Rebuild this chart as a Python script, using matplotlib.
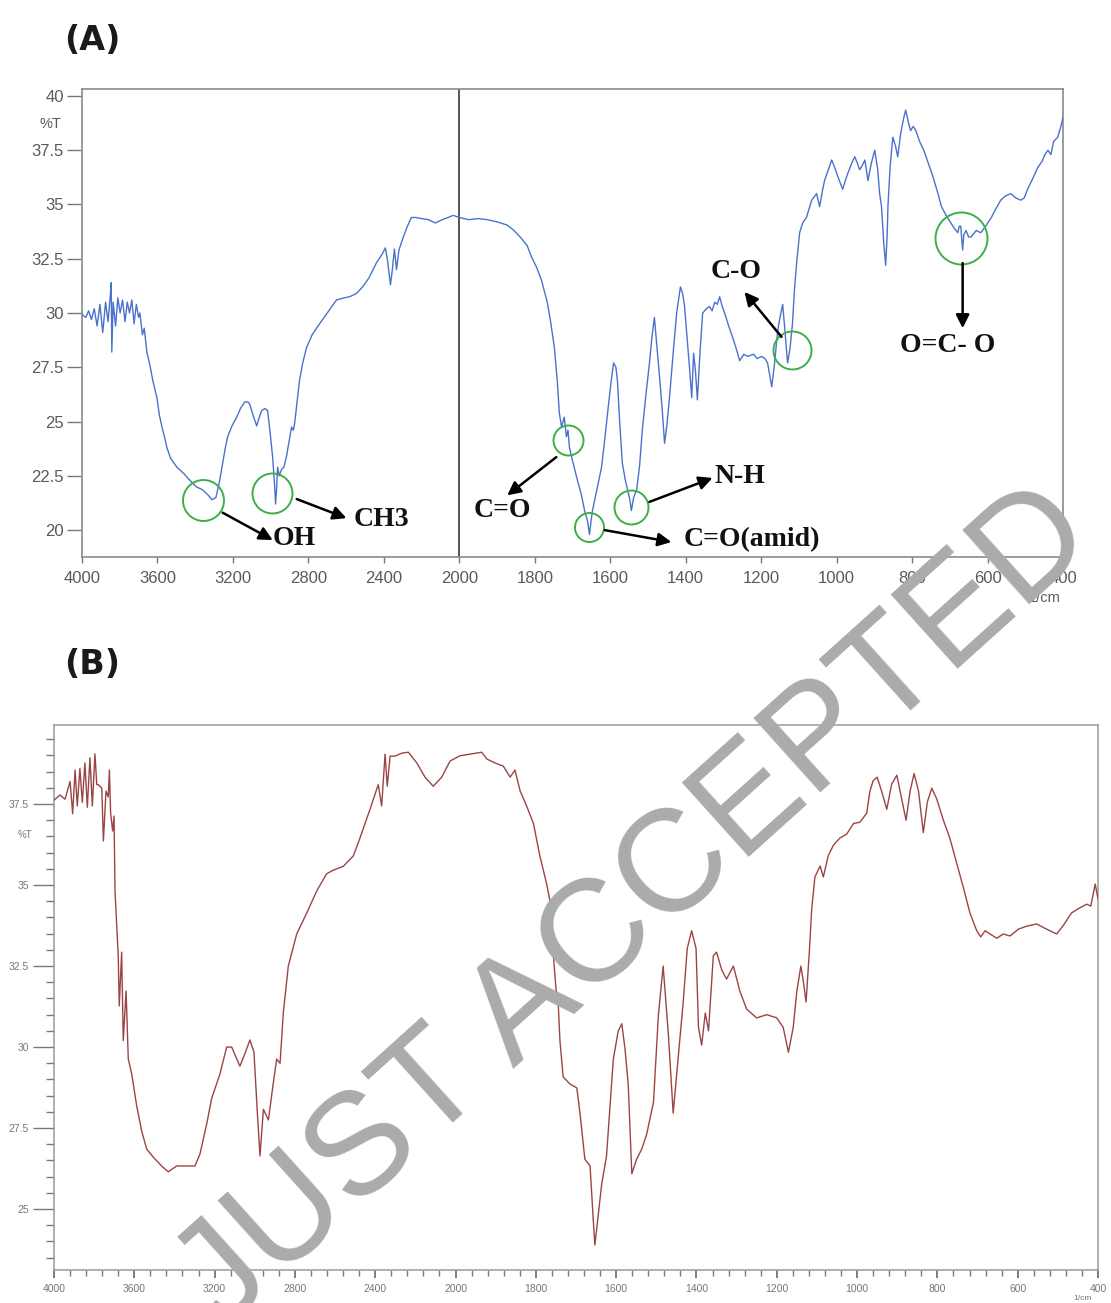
import numpy as np
import matplotlib
matplotlib.use('Agg')
import matplotlib.pyplot as plt

# ---- panel A spectrum (wavenumber 1/cm, %T) ----
wn_a = [4000, 3995, 3980, 3965, 3950, 3935, 3920, 3905, 3890, 3875, 3862, 3850, 3845, 3842,
        3835, 3822, 3810, 3798, 3785, 3772, 3760, 3748, 3736, 3724, 3712, 3700, 3693, 3680,
        3670, 3656, 3640, 3625, 3603, 3590, 3575, 3560, 3550, 3530, 3497, 3460, 3429, 3395,
        3360, 3330, 3312, 3290, 3270, 3254, 3240, 3228, 3205, 3180, 3160, 3138, 3120, 3111,
        3090, 3074, 3060, 3048, 3030, 3016, 3003, 2990, 2980, 2974, 2968, 2963, 2955, 2942,
        2930, 2916, 2900, 2889, 2880, 2873, 2860, 2847, 2830, 2810, 2780, 2741, 2700, 2651,
        2610, 2582, 2545, 2513, 2480, 2440, 2410, 2392, 2380, 2365, 2355, 2344, 2333, 2320,
        2297, 2275, 2254, 2230, 2200, 2164, 2127, 2090, 2060, 2032, 2000, 1975, 1950, 1926,
        1900, 1873, 1855, 1836, 1820, 1809, 1795, 1782, 1767, 1758, 1748, 1740, 1735, 1729,
        1722, 1716, 1712, 1708, 1700, 1687, 1676, 1668, 1660, 1655, 1651, 1647, 1635, 1623,
        1615, 1607, 1598, 1591, 1585, 1581, 1575, 1568, 1560, 1554, 1548, 1544, 1538, 1530,
        1522, 1515, 1505, 1496, 1490, 1483, 1477, 1470, 1462, 1456, 1450, 1443, 1433, 1424,
        1414, 1408, 1403, 1396, 1390, 1384, 1379, 1374, 1369, 1362, 1355, 1345, 1337, 1330,
        1323, 1316, 1310, 1303, 1297, 1286, 1276, 1265, 1257, 1246, 1236, 1220, 1210, 1199,
        1190, 1183, 1178, 1172, 1165, 1156, 1150, 1143, 1137, 1130, 1124, 1117, 1112, 1106,
        1098, 1090, 1080, 1066, 1053, 1045, 1038, 1032, 1022, 1013, 1005, 997, 984, 977,
        970, 960, 952, 945, 939, 932, 925, 917, 908, 899, 891, 886, 881, 875, 870, 866,
        864, 858, 851, 844, 838, 830, 822, 817, 810, 804, 797, 790, 780, 769, 757, 745,
        733, 722, 710, 697, 688, 679, 675, 671, 668, 666, 663, 657, 650, 644, 630, 618,
        605, 590, 578, 565, 552, 538, 525, 512, 503, 494, 480, 467, 455, 448, 440, 432,
        425, 414, 407, 400]
t_a = [29.9, 29.9, 29.8, 30.1, 29.7, 30.2, 29.4, 30.4, 29.1, 30.5, 29.6, 30.8, 31.4, 28.2,
       30.5, 29.4, 30.7, 30.0, 30.6, 29.6, 30.5, 30.0, 30.6, 29.5, 30.4, 29.8, 30.0, 29.0,
       29.3, 28.2, 27.6, 26.9, 26.1, 25.3, 24.7, 24.2, 23.8, 23.3, 22.9, 22.6, 22.3, 22.0,
       21.85, 21.6, 21.4, 21.5, 22.3, 23.1, 23.8, 24.3, 24.8, 25.2, 25.6, 25.9, 25.9, 25.8,
       25.2, 24.8, 25.2, 25.5, 25.6, 25.5, 24.5, 23.4, 22.2, 21.2, 22.0, 22.9, 22.5, 22.8,
       22.9, 23.4, 24.2, 24.75, 24.6, 24.9, 25.9, 26.9, 27.7, 28.4, 29.0, 29.5, 30.0, 30.6,
       30.7, 30.75, 30.9, 31.2, 31.6, 32.3, 32.7, 33.0, 32.4, 31.3, 32.0, 32.95, 32.0, 32.9,
       33.5, 34.0, 34.4, 34.4, 34.35, 34.3, 34.15, 34.3, 34.4, 34.5, 34.4, 34.3, 34.35, 34.3,
       34.2, 34.05, 33.8, 33.45, 33.1, 32.6, 32.1, 31.5, 30.5, 29.6, 28.4, 26.8, 25.4, 24.75,
       25.2, 24.3, 24.6, 23.8, 23.2, 22.3, 21.6, 20.9, 20.4, 19.8, 20.4, 20.9, 21.9, 22.9,
       24.1, 25.4, 26.8, 27.7, 27.5, 26.9, 25.0, 23.1, 22.3, 21.85, 21.4, 20.9, 21.5, 21.85,
       23.0, 24.6, 26.3, 27.7, 28.8, 29.8, 28.6, 27.2, 25.5, 24.0, 24.8, 26.1, 28.2, 30.0,
       31.2, 30.9, 30.3, 28.8, 27.5, 26.1, 28.15, 27.3, 26.0, 28.2, 30.0, 30.2, 30.3, 30.1,
       30.5, 30.4, 30.75, 30.3, 30.0, 29.4, 28.9, 28.3, 27.8, 28.1, 28.0, 28.1, 27.9, 28.0,
       27.9, 27.7, 27.2, 26.6, 27.6, 29.2, 29.8, 30.4, 29.2, 27.7, 28.3, 29.5, 31.0, 32.3,
       33.7, 34.15, 34.4, 35.2, 35.5, 34.9, 35.6, 36.1, 36.6, 37.05, 36.7, 36.3, 35.7, 36.1,
       36.45, 36.9, 37.2, 36.9, 36.6, 36.8, 37.05, 36.1, 36.9, 37.5, 36.6, 35.5, 34.9, 33.2,
       32.2, 33.6, 34.9, 36.8, 38.1, 37.7, 37.2, 38.3, 39.0, 39.35, 38.8, 38.4, 38.6, 38.4,
       37.9, 37.5, 36.9, 36.3, 35.6, 34.9, 34.5, 34.15, 33.9, 33.7, 34.0, 34.0, 33.3, 32.9,
       33.6, 33.8, 33.5, 33.5, 33.8, 33.7, 34.0, 34.4, 34.8, 35.2, 35.4, 35.5, 35.3, 35.2,
       35.3, 35.7, 36.2, 36.7, 37.0, 37.3, 37.5, 37.3, 37.9, 38.1, 38.5, 39.0]

# ---- panel B spectrum ----
wn_b = [4000, 3970, 3945, 3920, 3907, 3895, 3884, 3871, 3859, 3846, 3834, 3821, 3809, 3796,
        3787, 3779, 3762, 3754, 3741, 3730, 3724, 3718, 3708, 3701, 3696, 3680, 3675, 3663,
        3655, 3641, 3630, 3613, 3588, 3563, 3538, 3505, 3464, 3431, 3389, 3339, 3298, 3273,
        3239, 3215, 3173, 3140, 3115, 3074, 3049, 3024, 3004, 2987, 2974, 2957, 2932, 2911,
        2891, 2874, 2858, 2833, 2791, 2741, 2692, 2642, 2609, 2559, 2509, 2476, 2426, 2385,
        2368, 2351, 2340, 2326, 2301, 2268, 2235, 2193, 2152, 2111, 2069, 2027, 1989, 1964,
        1935, 1922, 1902, 1881, 1864, 1852, 1839, 1823, 1806, 1790, 1773, 1761, 1757, 1750,
        1744, 1740, 1732, 1715, 1698, 1690, 1678, 1665, 1657, 1653, 1644, 1636, 1624, 1607,
        1595, 1586, 1578, 1570, 1561, 1549, 1536, 1524, 1507, 1495, 1483, 1470, 1458, 1445,
        1433, 1423, 1412, 1401, 1395, 1387, 1378, 1370, 1358, 1350, 1337, 1325, 1308, 1292,
        1275, 1250, 1225, 1200, 1184, 1171, 1159, 1150, 1140, 1134, 1127, 1119, 1113, 1105,
        1092, 1084, 1072, 1059, 1043, 1026, 1009, 993, 976, 968, 960, 950, 939, 926,
        914, 901, 889, 878, 868, 858, 847, 835, 825, 814, 802, 785, 769, 752,
        735, 719, 702, 692, 681, 669, 652, 636, 619, 598, 578, 553, 528, 503,
        486, 466, 445, 428, 418, 407, 400]
t_b = [37.62, 37.78, 37.65, 38.2, 37.2, 38.55, 37.44, 38.6, 37.55, 38.77, 37.4, 38.93, 37.44, 39.05,
       38.1, 38.1, 37.99, 36.36, 37.9, 37.72, 38.55, 37.22, 36.67, 37.13, 34.8, 32.8, 31.27, 32.93,
       30.2, 31.73, 29.63, 29.17, 28.18, 27.4, 26.85, 26.6, 26.33, 26.15, 26.33, 26.33, 26.33, 26.7,
       27.64, 28.41, 29.18, 30.0, 30.0, 29.41, 29.8, 30.22, 29.84, 27.96, 26.64, 28.08, 27.75, 28.74,
       29.63, 29.5, 31.05, 32.5, 33.49, 34.14, 34.81, 35.35, 35.46, 35.58, 35.9, 36.45, 37.34, 38.1,
       37.44, 39.04, 38.05, 38.98, 38.98, 39.07, 39.1, 38.77, 38.33, 38.05, 38.33, 38.83, 38.99, 39.04,
       39.1, 38.89, 38.77, 38.67, 38.33, 38.55, 37.9, 37.44, 36.9, 35.9, 35.03, 34.26, 32.93, 31.82,
       31.27, 30.2, 29.08, 28.86, 28.74, 27.96, 26.54, 26.33, 24.66, 23.89, 24.88, 25.77, 26.64, 29.63,
       30.49, 30.72, 29.95, 28.86, 26.09, 26.54, 26.86, 27.31, 28.3, 30.95, 32.5, 30.4, 27.96, 29.73,
       31.39, 33.04, 33.59, 33.04, 30.61, 30.06, 31.05, 30.5, 32.82, 32.93, 32.38, 32.1, 32.5, 31.73,
       31.17, 30.9, 31.0, 30.9, 30.61, 29.84, 30.61, 31.73, 32.5, 32.04, 31.39, 32.93, 34.26, 35.25,
       35.59, 35.25, 35.9, 36.23, 36.45, 36.57, 36.9, 36.94, 37.22, 37.9, 38.22, 38.33, 37.9, 37.34,
       38.11, 38.39, 37.67, 37.0, 37.9, 38.44, 37.9, 36.62, 37.56, 37.99, 37.67, 37.0, 36.45, 35.68,
       34.91, 34.14, 33.59, 33.4, 33.59, 33.49, 33.36, 33.49, 33.43, 33.64, 33.73, 33.8, 33.64, 33.49,
       33.76, 34.14, 34.3, 34.41, 34.35, 35.03, 34.58]

# ---- band labels in panel A ----
band_names = ['OH', 'CH3', 'C=O', 'C=O(amid)', 'N-H', 'C-O', 'O=C- O']
band_wn = [3360, 2995, 1713, 1655, 1546, 1117, 671]
band_t = [21.38, 21.7, 24.15, 20.14, 21.06, 28.3, 33.46]
circle_px = [41, 40, 30, 29, 34, 38, 52]
arrow_tail = [(3254, 20.8), (2862, 21.43), (1743, 23.36), (1615, 20.0), (1496, 21.3), (1146, 28.9), (666, 32.3)]
arrow_head = [(2989, 19.54), (2598, 20.55), (1873, 21.6), (1438, 19.45), (1329, 22.4), (1244, 30.97), (666, 29.3)]
label_pos = [(2989, 19.62), (2560, 20.5), (1886, 20.9), (1405, 19.58), (1323, 22.45), (1266, 31.9), (706, 28.5)]
label_ha = ['left', 'left', 'center', 'left', 'left', 'center', 'center']

xticks_a = [4000, 3600, 3200, 2800, 2400, 2000, 1800, 1600, 1400, 1200, 1000, 800, 600, 400]
yticks_a = [20, 22.5, 25, 27.5, 30, 32.5, 35, 37.5, 40]
yticks_b = [25, 27.5, 30, 32.5, 35, 37.5]


def fwd(x):
    x = np.asarray(x, dtype=float)
    return np.where(x > 2000, 2000 + (x - 2000) / 2.0, x)


def inv(y):
    y = np.asarray(y, dtype=float)
    return np.where(y > 2000, 2000 + 2.0 * (y - 2000), y)


W, H = 1111, 1303
fig = plt.figure(figsize=(W / 100, H / 100), dpi=100)
fig.patch.set_facecolor('white')

tick_font = 'Liberation Sans'
gray = '#5a5a5a'

# ================= panel A =================
axA = fig.add_axes([82 / W, 1 - 557 / H, (1063 - 82) / W, (557 - 89) / H])
axA.set_xscale('function', functions=(fwd, inv))
axA.plot(wn_a, t_a, color='#4a72cc', lw=1.0, zorder=3)
axA.axvline(2000, color='#555555', lw=1.4, zorder=2)
axA.set_xlim(4000, 400)
axA.set_ylim(18.76, 40.32)
axA.set_xticks(xticks_a)
axA.set_xticklabels([str(v) for v in xticks_a], fontsize=12, color=gray, family=tick_font)
axA.set_yticks(yticks_a)
axA.set_yticklabels([f'{v:g}' for v in yticks_a], fontsize=12, color=gray, family=tick_font)
axA.minorticks_off()
axA.tick_params(axis='y', direction='out', length=11, width=1, color='#777777', pad=2)
axA.tick_params(axis='x', direction='out', length=4, width=1, color='#777777', pad=6)
for s in axA.spines.values():
    s.set_color('#8a8a8a')
    s.set_linewidth(1.2)

for i, name in enumerate(band_names):
    axA.plot(band_wn[i], band_t[i], 'o', mfc='none', mec='#3dae4a', mew=1.4,
             ms=circle_px[i] * 0.72, zorder=4)
    axA.annotate('', xy=arrow_head[i], xytext=arrow_tail[i],
                 arrowprops=dict(arrowstyle='-|>', color='black', lw=1.8,
                                 mutation_scale=20, shrinkA=0, shrinkB=0), zorder=5)
    axA.text(label_pos[i][0], label_pos[i][1], name, ha=label_ha[i], va='center',
             fontsize=20, fontweight='bold', family='Liberation Serif', color='#111111', zorder=5)

fig.text(50 / W, 1 - 124 / H, '%T', ha='center', va='center', fontsize=10.5, color=gray, family=tick_font)
fig.text(1045 / W, 1 - 598 / H, '1/cm', ha='center', va='center', fontsize=10.5, color=gray, family=tick_font)
fig.text(92 / W, 1 - 40 / H, '(A)', ha='center', va='center', fontsize=24, fontweight='bold', color='#1a1a1a')

# ================= panel B =================
axB = fig.add_axes([54 / W, 1 - 1270 / H, (1098 - 54) / W, (1270 - 725) / H])
axB.set_xscale('function', functions=(fwd, inv))
axB.plot(wn_b, t_b, color='#9c4444', lw=1.0, zorder=3)
axB.set_xlim(4000, 400)
axB.set_ylim(23.12, 39.94)
axB.set_xticks(xticks_a)
axB.set_xticklabels([str(v) for v in xticks_a], fontsize=7.5, color='#777777', family=tick_font)
minor_x = [v for v in np.arange(4000, 2000, -80)] + [v for v in np.arange(2000, 399, -40)]
axB.set_xticks(minor_x, minor=True)
axB.set_yticks(yticks_b)
axB.set_yticklabels([f'{v:g}' for v in yticks_b], fontsize=7.5, color='#777777', family=tick_font)
axB.set_yticks(np.arange(23.5, 40.0, 0.5), minor=True)
axB.tick_params(axis='y', which='major', direction='out', length=15, width=1, color='#777777', pad=3)
axB.tick_params(axis='y', which='minor', direction='out', length=6, width=1, color='#777777')
axB.tick_params(axis='x', which='major', direction='out', length=6, width=1.2, color='#666666', pad=4)
axB.tick_params(axis='x', which='minor', direction='out', length=4, width=1, color='#777777')
for s in axB.spines.values():
    s.set_color('#9a9a9a')
    s.set_linewidth(1.1)

fig.text(25 / W, 1 - 835 / H, '%T', ha='center', va='center', fontsize=7, color='#777777', family=tick_font)
fig.text(1083 / W, 1 - 1298 / H, '1/cm', ha='center', va='center', fontsize=6, color='#777777', family=tick_font)
fig.text(92 / W, 1 - 665 / H, '(B)', ha='center', va='center', fontsize=24, fontweight='bold', color='#1a1a1a')

# watermark
fig.text(636 / W, 1 - 908 / H, 'JUST ACCEPTED', rotation=42, rotation_mode='anchor',
         ha='center', va='center', fontsize=104, color='#ababab', family=tick_font, zorder=20)

fig.savefig('out.png', dpi=100)
